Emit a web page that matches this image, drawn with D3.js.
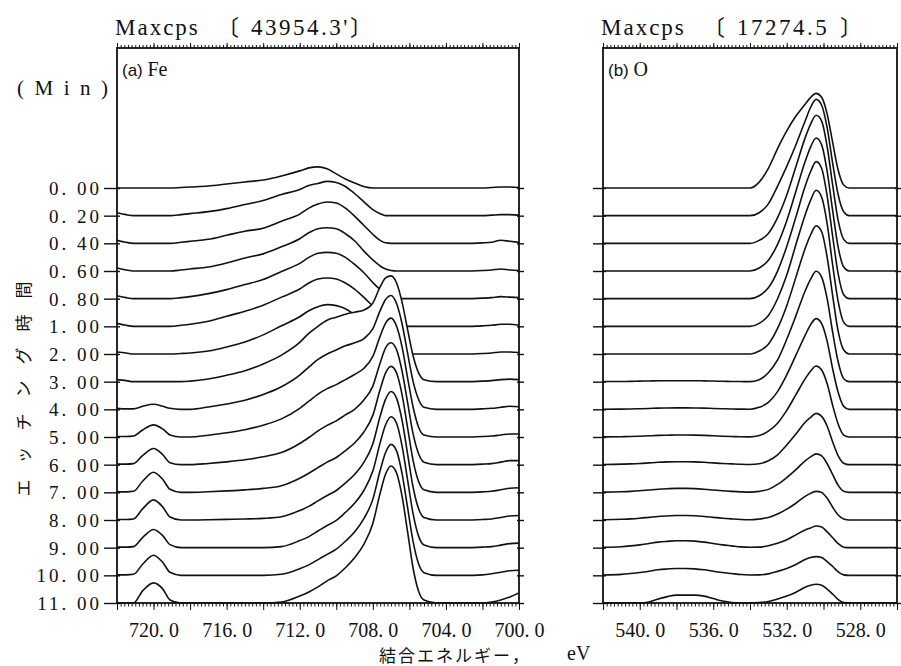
<!DOCTYPE html>
<html><head><meta charset="utf-8">
<script src="https://cdn.jsdelivr.net/npm/d3@7"></script>
<style>body{margin:0;background:#fff}</style>
</head><body>
<svg id="chart" width="901" height="666"></svg>
<script>
// ---------------- DATA ----------------
const etchTimes = [0, 0.2, 0.4, 0.6, 0.8, 1, 2, 3, 4, 5, 6, 7, 8, 9, 10, 11];
const feMaxcps = "43954.3'";
const oMaxcps = "17274.5";
const feTickValues = [720, 716, 712, 708, 704, 700];
const oTickValues = [540, 536, 532, 528];

// Fe 2p binding energies (eV) and relative intensities for each etching time
const feEnergy = [722,721.5,721.1,720.6,720,719.5,719.1,718.5,718,
  717,716,715,714,713,712,711.5,711,710.5,710,709.5,709,708.5,
  708,707.6,707.3,707,706.7,706.4,706.1,705.8,705.5,705.2,
  704.5,704,703,702,701.5,701,700.5,700];
const feIntensity = [
  [0,0,0,0,0,0,0,0.5,1, 2,4,6,8,12,17,20,21,19,14,9,5,1.5, 0,0,0,0,0,0,0,0,0,0, 0,0,0,0,0.5,1,1,0.5],
  [3,1,0,0,0,0,0,1,2, 4,7,11,15,21,26,30,32,34,33,29,22,14, 6,2,0,0,0,0,0,0,0,0, 0,0,0,0,0.5,1,1,0.5],
  [3,1,0,0,0,0,0,1,2, 4,8,12,15,22,29,35,39,41,40,35,27,18, 9,3,0.5,0,0,0,0,0,0,0, 0,0,0,0.5,1,3,2,1],
  [3,1,0,0,0,0,0,1,2, 4,8,13,17,24,32,38,42,43,42,37,30,20, 11,5,2,0.5,0,0,0,0,0,0, 0,0,0,0.5,1,2,1,0.5],
  [3,1,0,0,0,0,0,1,2, 5,9,14,19,27,35,41,45,46,45,41,34,26, 16,9,5,2,1,0,0,0,0,0, 0,0,0,0.5,1,2,1.5,1],
  [3,1,0,0,0,0,0,1,2, 5,10,15,21,29,37,43,47,48,47,43,37,29, 20,13,8,4,2,1,0,0,0,0, 0,0,0,0.5,1,2,2,1],
  [2,1,0,0,0,0,0,0.5,1, 3,7,12,19,28,37,43,47,49,48,45,39,31, 22,15,10,6,3,1,0,0,0,0, 0,0,0,0.5,1,2,2,1.5],
  [2,1,0,0,0,0,0,0,0.5, 2.7,6.3,10.8,17.6,26.4,39,48,55,61,64,67,69,71, 78,94,103,105,98,79,52,26,9,2, 0,0,0,0.5,1,2,2.5,2],
  [1,0.5,0.5,3,5,3,1,0,0, 2.3,5.3,9.1,14.8,22.5,34,42,49.5,55,59,63,66,70, 80,98,109,113,105,85,56,28,10,2, 0,0,0,0.5,1,2,3,2.5],
  [0.5,0.5,1,7,12,8,2,0,0, 1.8,4.2,7.2,11.7,18,28.5,35.5,42.5,48,52,57,62,68, 80,100,113,118,110,89.5,59,30,10,2, 0,0,0,0.5,1,2,3,3],
  [0.5,0.5,1,9,16,10,2,0,0, 1.2,2.8,4.8,7.8,12,21,27,33.5,39,43.5,49.4,55,64, 78,101,116,121,114,93,62,31,11,2.4, 0,0,0,0.5,1,2.5,4,4],
  [0.5,0.5,1,11,20,13,3,0,0, 0.6,1.4,2.4,3.9,6.6,14,19,24.5,30,34.6,41.4,49,59.6, 76.4,102,118.6,125,118.4,97,64.5,32,11,2.5, 0,0,0,0.5,1,2.5,4,4.5],
  [0.5,0.5,1,11,20,13,3,0,0, 0.2,0.6,1,1.6,3.2,9.4,13.5,19,24.3,29.3,36.7,45.2,57, 75.5,103,120,127.5,120.7,99,66,33,11.4,2.5, 0,0,0,0.5,1,2.5,4,4.5],
  [0.5,0.5,1,10,18,12,3,0,0, 0,0,0,0,1,7,11,16.5,22,27,35,44,56.5, 76,104,122,130,123.5,101,67.6,34,11.7,2.6, 0,0,0,0.5,1,2.5,4,4.5],
  [0.5,0.5,1,11,20,13,3,0,0, 0,0,0,0,1,6.5,10.4,15.6,20.8,26,33.8,43,56, 75.4,104,122,130,123.5,101,67.6,34,11.7,2.6, 0,0,0,0.5,1.5,3,4.5,5],
  [0,0,0,12,20,14,3,0,0, 0,0,0,0,1,7,11,16,22,27,35,45,58, 79,109,128,136,129,106,71,35,12,3, 0,0,0,0,1,3,6,10]
];

// O 1s binding energies (eV) and relative intensities for each etching time
const oEnergy = [542,541,540.5,540,539.5,539,538.5,538,537.5,537,536.5,536,535.5,535,534.5,534,
  533.5,533,532.5,532,531.5,531,530.7,530.4,530.1,529.8,529.5,529.2,528.9,528.6,528,527,526];
const oIntensity = [
  [0,0,0,0,0,0,0,0,0,0,0,0,0,0,0,0, 6,20,40,58,73,85,92,96,92,75,46,18,3,0,0,0,0],
  [0,0,0,0,0,0,0,0,0,0,0,0,0,0,0,0, 3,12,30,50,72,96,110,118,112,89,53,21,4,0,0,0,0],
  [0,0,0,0,0,0,0,0,0,0,0,0,0,0,0,0, 3,10,26,49,78,107,121,130,124,98,59,23,4,0,0,0,0],
  [0,0,0,0,0,0,0,0,0,0,0,0,0,0,0,0, 3,11,27,51,81,111,126,135,128,101,61,24,4,0,0,0,0],
  [0,0,0,0,0,0,0,0,0,0,0,0,0,0,0,0, 3,11,28,53,83,114,129,139,132,104,63,25,4,0,0,0,0],
  [0,0,0,0,0,0,0,0,0,0,0,0,0,0,0,0, 3,11,28,52,83,113,128,138,131,104,62,25,4,0,0,0,0],
  [0,0,0,0,0,0,0,0,0,0,0,0,0,0,0,0, 3,10,26,49,78,107,121,130,124,98,59,23,4,0,0,0,0],
  [0.1,0.2,0.3,0.5,0.7,0.9,1,1,1,1,0.8,0.6,0.4,0.2,0.1,0, 2,9,22,43,67,92,104,112,106,84,50,20,3,0,0,0,0],
  [0.1,0.2,0.4,0.6,0.9,1.2,1.4,1.5,1.5,1.4,1.2,0.9,0.6,0.4,0.2,0.1, 2,7,18,35,55,75,86,92,87,69,41,17,3,0,0,0,0],
  [0.1,0.3,0.5,0.8,1.2,1.6,1.8,2,2,1.9,1.6,1.2,0.8,0.5,0.2,0.1, 1.5,6,14,27,43,59,67,72,68,54,32,13,2,0,0,0,0],
  [0.2,0.5,0.8,1.2,1.8,2.4,2.8,3,3,2.8,2.4,1.8,1.2,0.8,0.4,0.2, 1,4,10,20,31,43,48,52,49,39,23,9,1.5,0,0,0,0],
  [0.2,0.6,1,1.6,2.4,3.2,3.7,4,4,3.8,3.2,2.4,1.6,1,0.5,0.2, 1,3,8,15,23,32,36,39,37,29,18,7,1,0,0,0,0],
  [0.2,0.7,1.1,1.8,2.7,3.6,4.1,4.5,4.5,4.3,3.6,2.7,1.8,1.1,0.5,0.2, 1,2.5,6,11,17,24,27,29,28,22,13,5,1,0,0,0,0],
  [0.4,1,1.8,2.8,4.2,5.6,6.4,7,7,6.6,5.6,4.2,2.8,1.8,0.8,0.4, 0.5,2,4.5,8,13,18,20,22,21,16,10,4,0.5,0,0,0,0],
  [0.4,1,1.8,2.8,4.2,5.6,6.4,7,7,6.6,5.6,4.2,2.8,1.8,0.8,0.4, 0.5,1.5,4,7,11,16,18,19,18,14,9,3.5,0.5,0,0,0,0],
  [0,0,0,0,1,4,6.5,8,8,8,7,4.5,2,0.5,0,0, 0.5,1.5,4,7,11,16,18,19,18,14,9,3.5,0.5,0,0,0,0]
];

// ---------------- LAYOUT ----------------
const TOP = 48, ROW_TOP = 188, ROW_BOTTOM = 603;
const PEAK_PX = 137;
const serif = "'Liberation Serif','Times New Roman',serif";
const cjk = "'Noto Sans CJK JP','Noto Sans CJK SC',sans-serif";
const ink = "#111";

const svg = d3.select("#chart");
svg.append("rect").attr("width", 901).attr("height", 666).attr("fill", "#fff");

const yRow = d3.scalePoint().domain(etchTimes).range([ROW_TOP, ROW_BOTTOM]);
const fmtTime = d => d3.format(".2f")(d).replace(".", ". ");
const fmtE = d => d3.format(".1f")(d).replace(".", ". ");

function drawPanel(cfg) {
  const x = d3.scaleLinear().domain(cfg.domain).range([cfg.x0, cfg.x1]);
  const h = d3.scaleLinear().domain([0, d3.max(cfg.rows.flat())]).range([0, PEAK_PX]);
  const clipId = "clip" + cfg.id;
  svg.append("clipPath").attr("id", clipId).append("rect")
    .attr("x", cfg.x0).attr("y", TOP).attr("width", cfg.x1 - cfg.x0).attr("height", ROW_BOTTOM - TOP + 1);
  const g = svg.append("g").attr("clip-path", `url(#${clipId})`);

  cfg.rows.forEach((vals, i) => {
    const base = yRow(etchTimes[i]);
    const pts = cfg.energy.map((e, j) => [e, vals[j]]);
    const area = d3.area().x(d => x(d[0])).y0(base).y1(d => base - h(d[1])).curve(d3.curveMonotoneX);
    const line = d3.line().x(d => x(d[0])).y(d => base - h(d[1])).curve(d3.curveMonotoneX);
    g.append("path").attr("d", area(pts)).attr("fill", "#fff");
    g.append("path").attr("d", line(pts)).attr("fill", "none")
      .attr("stroke", ink).attr("stroke-width", 1.6).attr("stroke-linejoin", "round");
  });

  svg.append("rect").attr("x", cfg.x0).attr("y", TOP)
    .attr("width", cfg.x1 - cfg.x0).attr("height", ROW_BOTTOM - TOP)
    .attr("fill", "none").attr("stroke", ink).attr("stroke-width", 1.8);

  const lo = Math.min(...cfg.domain), hi = Math.max(...cfg.domain);
  const minor = d3.range(Math.round(lo * 5), Math.round(hi * 5) + 1).map(v => v / 5);
  const major = d3.range(lo, hi + 0.001, 2);
  const axB = svg.append("g").attr("transform", `translate(0,${ROW_BOTTOM})`)
    .call(d3.axisBottom(x).tickValues(minor).tickSize(3.5).tickFormat(""));
  const axB2 = svg.append("g").attr("transform", `translate(0,${ROW_BOTTOM})`)
    .call(d3.axisBottom(x).tickValues(major).tickSize(7).tickFormat(""));
  const axL = svg.append("g").attr("transform", `translate(0,${ROW_BOTTOM})`)
    .call(d3.axisBottom(x).tickValues(cfg.ticks).tickSize(0).tickPadding(20).tickFormat(fmtE));
  axL.selectAll("text").attr("font-family", serif).attr("font-size", 20).attr("fill", ink);
  const axT = svg.append("g").attr("transform", `translate(0,${TOP})`)
    .call(d3.axisTop(x).tickValues(minor).tickSize(3).tickFormat(""));
  const axT2 = svg.append("g").attr("transform", `translate(0,${TOP})`)
    .call(d3.axisTop(x).tickValues(major).tickSize(5).tickFormat(""));
  [axB, axB2, axL, axT, axT2].forEach(a => {
    a.select(".domain").remove();
    a.selectAll("line").attr("stroke", ink).attr("stroke-width", 1);
  });

  const axRow = svg.append("g").attr("transform", `translate(${cfg.x0 + 3},0)`)
    .call(d3.axisLeft(yRow).tickSize(cfg.rowTickLen).tickPadding(2)
      .tickFormat(cfg.rowLabels ? fmtTime : ""));
  axRow.select(".domain").remove();
  axRow.selectAll("line").attr("stroke", ink).attr("stroke-width", 1.4);
  axRow.selectAll("text").attr("font-family", serif).attr("font-size", 19)
    .attr("letter-spacing", "3px").attr("fill", ink).attr("dy", "0.34em");
  const axRowR = svg.append("g").attr("transform", `translate(${cfg.x1 - 2},0)`)
    .call(d3.axisRight(yRow).tickSize(7).tickFormat(""));
  axRowR.select(".domain").remove();
  axRowR.selectAll("line").attr("stroke", ink).attr("stroke-width", 1.4);

  const t = svg.append("g").attr("fill", ink);
  t.append("text").attr("x", cfg.x0 - 2).attr("y", 35).attr("font-family", serif)
    .attr("font-size", 23).attr("letter-spacing", "2px").text("Maxcps");
  t.append("text").attr("x", cfg.brX).attr("y", 35).attr("font-family", cjk)
    .attr("font-size", 22).text("〔");
  t.append("text").attr("x", cfg.numX).attr("y", 35).attr("font-family", serif)
    .attr("font-size", 23).attr("letter-spacing", "2.5px").text(cfg.maxcps);
  t.append("text").attr("x", cfg.brX2).attr("y", 35).attr("font-family", cjk)
    .attr("font-size", 22).text("〕");
  const lab = t.append("text").attr("x", cfg.x0 + 5).attr("y", 76);
  lab.append("tspan").attr("font-family", "'Liberation Sans',Arial,sans-serif").attr("font-size", 17).text(cfg.tag + " ");
  lab.append("tspan").attr("font-family", serif).attr("font-size", 20).text(cfg.element);
}

drawPanel({id: "fe", x0: 117, x1: 519, domain: [722, 700], energy: feEnergy, rows: feIntensity,
  ticks: feTickValues, rowLabels: true, rowTickLen: 16, maxcps: feMaxcps,
  brX: 217, numX: 251, brX2: 350, tag: "(a)", element: "Fe"});
drawPanel({id: "o", x0: 603, x1: 897, domain: [542, 526], energy: oEnergy, rows: oIntensity,
  ticks: oTickValues, rowLabels: false, rowTickLen: 13, maxcps: oMaxcps,
  brX: 703, numX: 737, brX2: 840, tag: "(b)", element: "O"});

svg.append("text").attr("x", 17).attr("y", 95).attr("font-family", serif).attr("font-size", 21)
  .attr("letter-spacing", "10.5px").attr("fill", ink).text("(Min)");
svg.append("text").attr("transform", "translate(30,381) rotate(-90)").attr("text-anchor", "middle")
  .attr("font-family", cjk).attr("font-size", 17).attr("letter-spacing", "16px").attr("fill", ink)
  .text("エッチング時間");
svg.append("text").attr("x", 379).attr("y", 662).attr("font-family", cjk).attr("font-size", 17)
  .attr("letter-spacing", "2px").attr("fill", ink).text("結合エネルギー，");
svg.append("text").attr("x", 567).attr("y", 660).attr("font-family", serif).attr("font-size", 20)
  .attr("fill", ink).text("eV");
</script>
</body></html>
